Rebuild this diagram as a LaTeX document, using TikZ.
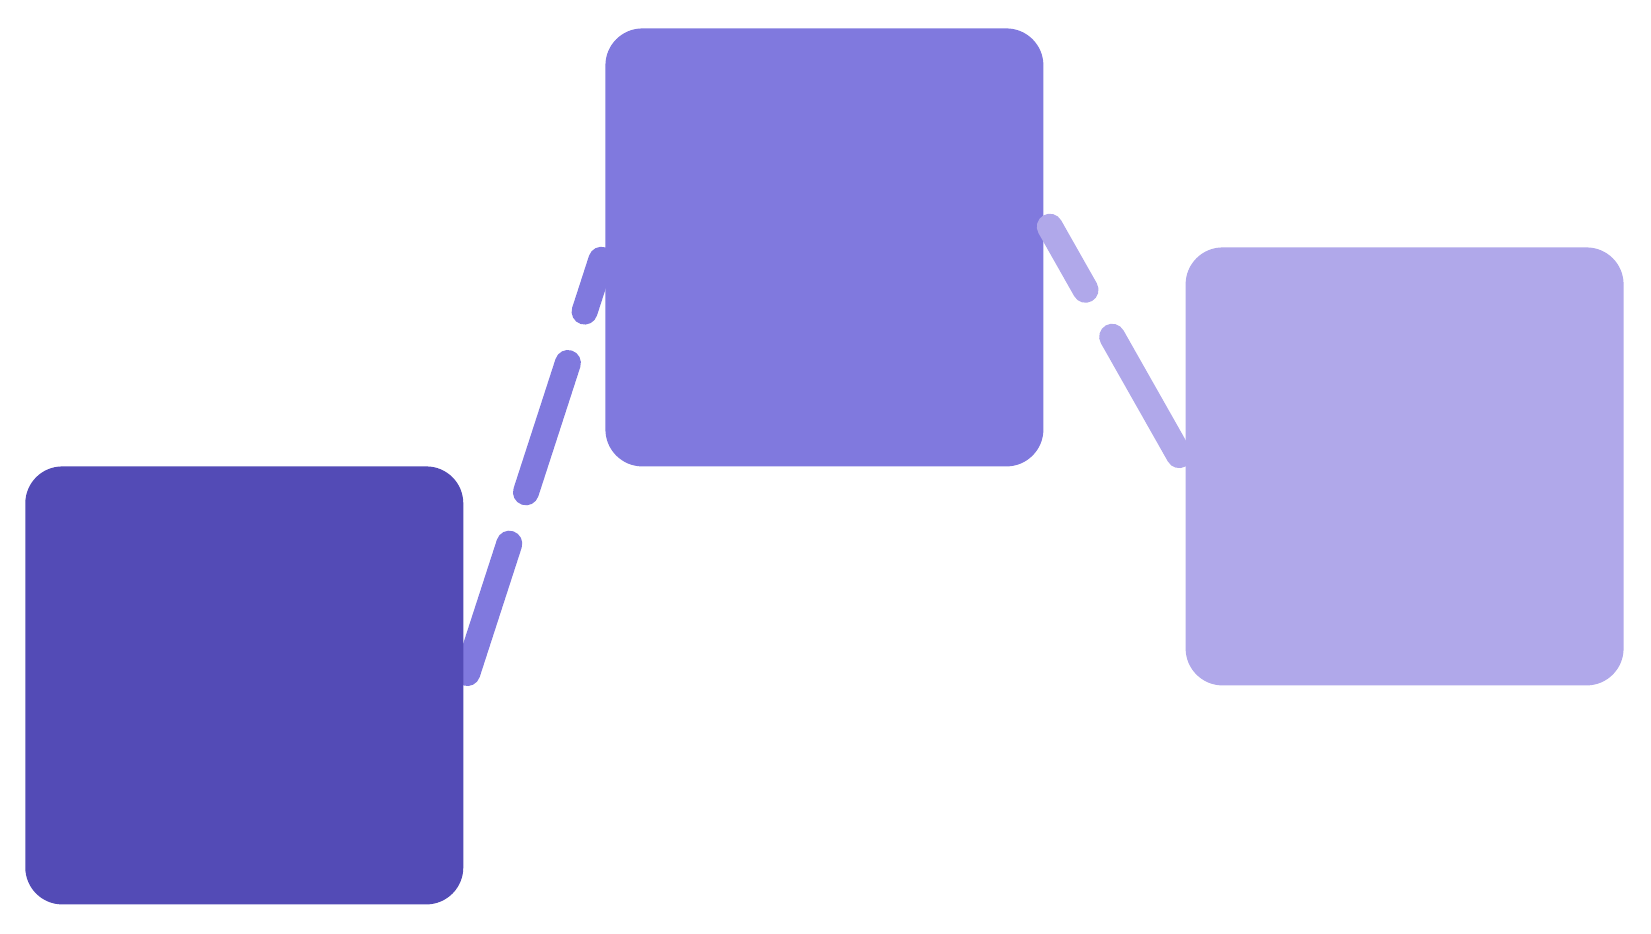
\documentclass[tikz,border=0pt]{standalone}
\usepackage{tikz}
\usetikzlibrary{positioning,calc}
\definecolor{deep}{HTML}{534BB6}
\definecolor{mid}{HTML}{8079DE}
\definecolor{pale}{HTML}{B0A8EA}
\pgfdeclarelayer{back}
\pgfdeclarelayer{front}
\pgfsetlayers{back,main,front}

\begin{document}
\begin{tikzpicture}[box/.style={rectangle,rounded corners=18.5pt,minimum width=219pt,minimum height=219pt,inner sep=0,outer sep=0},
    link/.style={line width=13pt,line cap=round,dash pattern=on 68pt off 27pt,shorten <=6.5pt,shorten >=6.5pt}]
    \useasboundingbox (0,0) rectangle (825.5pt,-466.5pt);
    \node[box,fill=deep] (a) at (122.15pt,-342.7pt) {};
    \node[box,fill=mid,above right=0pt and 71.05pt of a] (b) {};
    \begin{pgfonlayer}{front}
    \node[box,fill=pale,right=71.1pt of b.south east,anchor=west] (c) {};
    \end{pgfonlayer}
    \begin{pgfonlayer}{back}
    \draw[link,mid] (a.east) -- (b.west);
    \end{pgfonlayer}
    \draw[link,pale] (c.west) -- ([yshift=16pt]b.east);
  \end{tikzpicture}
\end{document}
